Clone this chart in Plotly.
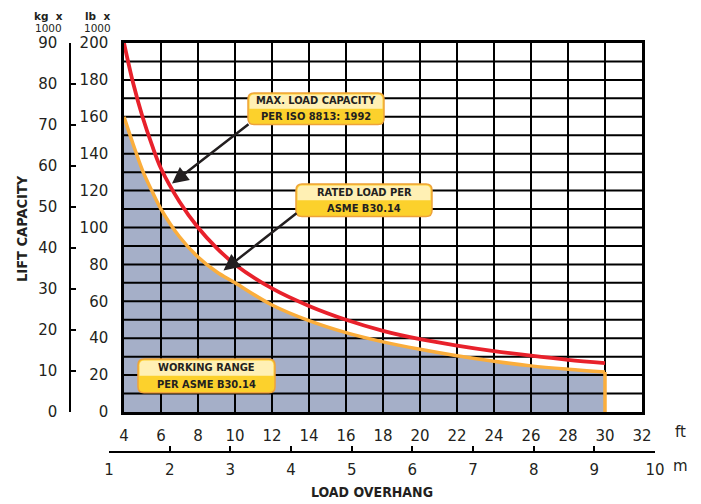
import plotly.graph_objects as go

# ---------------- data ----------------
ft_ticks = list(range(4, 33, 2))
lb_ticks = list(range(0, 201, 20))
lb_grid = list(range(10, 200, 10))
kg_ticks = list(range(0, 91, 10))
m_ticks = list(range(1, 11))

overhang_ft = [4, 4.5, 5, 5.5, 6, 7, 8, 9, 10, 12, 14, 16, 18, 20, 22, 24, 26, 28, 30]
max_load = [200, 178, 160, 145, 132, 114, 100, 89, 80, 67, 57.5, 50, 44, 39.5, 36, 33, 30.5, 28.3, 26.5]
rated_load = [160, 145, 131, 120, 110, 95, 84, 76, 70, 58, 49.5, 43, 38, 34, 30.5, 27.5, 25, 23.2, 21.7]

RED = "#e8212b"
ORANGE = "#fbae3c"
FILL = "#a5afc8"
INK = "#231f20"
TICKFONT = dict(family="DejaVu Sans, Arial, sans-serif", size=15, color=INK)
NARROW = "Liberation Sans Narrow, Arial Narrow, DejaVu Sans Condensed, sans-serif"

fig = go.Figure()

# working range fill
fig.add_trace(go.Scatter(x=overhang_ft, y=rated_load, mode="lines", fill="tozeroy",
                         fillcolor=FILL, line=dict(width=0, shape="spline"),
                         hoverinfo="skip", showlegend=False))

# grid drawn above the fill
gx, gy = [], []
for v in ft_ticks[1:-1]:
    gx += [v, v, None]
    gy += [lb_ticks[0], lb_ticks[-1], None]
for h in lb_grid:
    gx += [ft_ticks[0], ft_ticks[-1], None]
    gy += [h, h, None]
fig.add_trace(go.Scatter(x=gx, y=gy, mode="lines", line=dict(color="black", width=2),
                         hoverinfo="skip", showlegend=False))

# curves
fig.add_trace(go.Scatter(x=overhang_ft, y=rated_load, mode="lines",
                         line=dict(color=ORANGE, width=3.5, shape="spline"),
                         showlegend=False))
fig.add_trace(go.Scatter(x=[overhang_ft[-1], overhang_ft[-1]], y=[rated_load[-1], 0], mode="lines",
                         line=dict(color=ORANGE, width=3.5), showlegend=False, hoverinfo="skip"))
fig.add_trace(go.Scatter(x=overhang_ft, y=max_load, mode="lines",
                         line=dict(color=RED, width=3.8, shape="spline"),
                         showlegend=False))

# helper traces for secondary axes
fig.add_trace(go.Scatter(x=[m_ticks[0], m_ticks[-1]], y=[0, 0], xaxis="x2", yaxis="y",
                         mode="markers", marker=dict(opacity=0), hoverinfo="skip", showlegend=False))
fig.add_trace(go.Scatter(x=[ft_ticks[0], ft_ticks[-1]], y=[0, 0], xaxis="x", yaxis="y2",
                         mode="markers", marker=dict(opacity=0), hoverinfo="skip", showlegend=False))

# ---------------- layout ----------------
OFF = 8  # page body margin
W, H = 701 - OFF, 504 - OFF
# margins expressed in window pixels
L, R, T, B = 60 - OFF, 701 - 660, 43 - OFF, 504 - 452
pw, ph = W - L - R, H - T - B


def px2xp(px):
    return (px - OFF - L) / pw


def py2yp(py):
    return (H - B - (py - OFF)) / ph


fig.update_layout(
    width=W, height=H, margin=dict(l=L, r=R, t=T, b=B, autoexpand=False),
    paper_bgcolor="white", plot_bgcolor="rgba(0,0,0,0)",
    xaxis=dict(domain=[px2xp(124), px2xp(642)], range=[4, 32], tickvals=ft_ticks,
               showgrid=False, zeroline=False, showline=True, linecolor="black", linewidth=2.5,
               mirror=True, ticks="", tickfont=TICKFONT, ticklabelstandoff=8, anchor="y",
               automargin=False),
    yaxis=dict(domain=[py2yp(412), 1], range=[0, 200], tickvals=lb_ticks,
               showgrid=False, zeroline=False, showline=True, linecolor="black", linewidth=2.5,
               mirror=True, ticks="", tickfont=TICKFONT, ticklabelstandoff=10, anchor="x",
               automargin=False),
    xaxis2=dict(domain=[px2xp(109), px2xp(655)], range=[1, 10], tickvals=m_ticks,
                anchor="free", position=0, side="bottom", showgrid=False, zeroline=False,
                showline=True, linecolor="black", linewidth=1.5, ticks="inside", ticklen=5,
                tickwidth=1.5, tickcolor="black", tickfont=TICKFONT, ticklabelstandoff=4,
                automargin=False),
    yaxis2=dict(overlaying="y", range=[0, 90], tickvals=kg_ticks, anchor="free",
                position=px2xp(70), side="left", showgrid=False, zeroline=False,
                showline=True, linecolor="black", linewidth=1.5, ticks="inside", ticklen=5,
                tickwidth=1.5, tickcolor="black", tickfont=TICKFONT, ticklabelstandoff=9,
                automargin=False),
)

ann = []
def paper_text(txt, px, py, size=15, bold=False, family=TICKFONT["family"], angle=0, yanchor="middle"):
    ann.append(dict(text=f"<b>{txt}</b>" if bold else txt, x=px2xp(px), y=py2yp(py),
                    xref="paper", yref="paper", showarrow=False, textangle=angle,
                    font=dict(family=family, size=size, color=INK), borderpad=0,
                    xanchor="center", yanchor=yanchor))

paper_text("ft", 680, 432)
paper_text("m", 680, 466)
paper_text("kg  x", 48, 8.5, size=10.5, bold=True, yanchor="top")
paper_text("1000", 48, 21, size=10.5, yanchor="top")
paper_text("lb  x", 97, 8.5, size=10.5, bold=True, yanchor="top")
paper_text("1000", 97, 21, size=10.5, yanchor="top")
paper_text("LIFT CAPACITY", 22, 229, size=14.5, bold=True, family=NARROW, angle=-90)
paper_text("LOAD OVERHANG", 372, 492, size=14, bold=True, family=NARROW)

# callout boxes (data coordinates)
def ftx(px):
    return 4 + (px - 124) / 18.5


def lby(py):
    return (412 - py) / 1.845


def rpath(x0, x1, y0, y1, rx, ry, round_bottom=True):
    p = f"M {x0+rx},{y1} L {x1-rx},{y1} Q {x1},{y1} {x1},{y1-ry} "
    if round_bottom:
        p += f"L {x1},{y0+ry} Q {x1},{y0} {x1-rx},{y0} L {x0+rx},{y0} Q {x0},{y0} {x0},{y0+ry} "
    else:
        p += f"L {x1},{y0} L {x0},{y0} "
    p += f"L {x0},{y1-ry} Q {x0},{y1} {x0+rx},{y1} Z"
    return p

shapes = []
boxes = [
    ((248, 384, 93, 124.5), ["MAX. LOAD CAPACITY", "PER ISO 8813: 1992"]),
    ((296, 432, 184, 216.5), ["RATED LOAD PER", "ASME B30.14"]),
    ((138, 275, 359, 392.7), ["WORKING RANGE", "PER ASME B30.14"]),
]
rx, ry = 6 / 18.5, 6 / 1.845
for (x0, x1, y0, y1), lines in boxes:
    X0, X1, Yb, Yt = ftx(x0), ftx(x1), lby(y1), lby(y0)
    shapes.append(dict(type="path", xref="x", yref="y", layer="above",
                       path=rpath(X0, X1, Yb, Yt, rx, ry),
                       fillcolor="#fcd12c", line=dict(color="#eea23a", width=1.5)))
    mid = lby((y0 + y1) / 2)
    shapes.append(dict(type="path", xref="x", yref="y", layer="above",
                       path=rpath(ftx(x0 + 1.5), ftx(x1 - 1.5), mid, lby(y0 + 1.5), rx * 0.8, ry * 0.8,
                                  round_bottom=False),
                       fillcolor="#fff0b4", line=dict(width=0)))
    cx = ftx((x0 + x1) / 2)
    h = y1 - y0
    for i, t in enumerate(lines):
        ann.append(dict(text=f"<b>{t}</b>", x=cx, y=lby(y0 + h * (0.25 + 0.5 * i)),
                        xref="x", yref="y", showarrow=False,
                        font=dict(family=NARROW, size=11, color=INK),
                        xanchor="center", yanchor="middle"))

# arrows
for (tx, ty), (hx, hy) in [((250, 123), (172, 183.5)), ((298, 212), (223.5, 270.5))]:
    ann.append(dict(text="", x=ftx(hx), y=lby(hy), ax=ftx(tx), ay=lby(ty),
                    xref="x", yref="y", axref="x", ayref="y", showarrow=True,
                    arrowhead=2, arrowsize=1.3, arrowwidth=2.5, arrowcolor=INK))

fig.update_layout(shapes=shapes, annotations=ann)
fig.write_html("out.html")
